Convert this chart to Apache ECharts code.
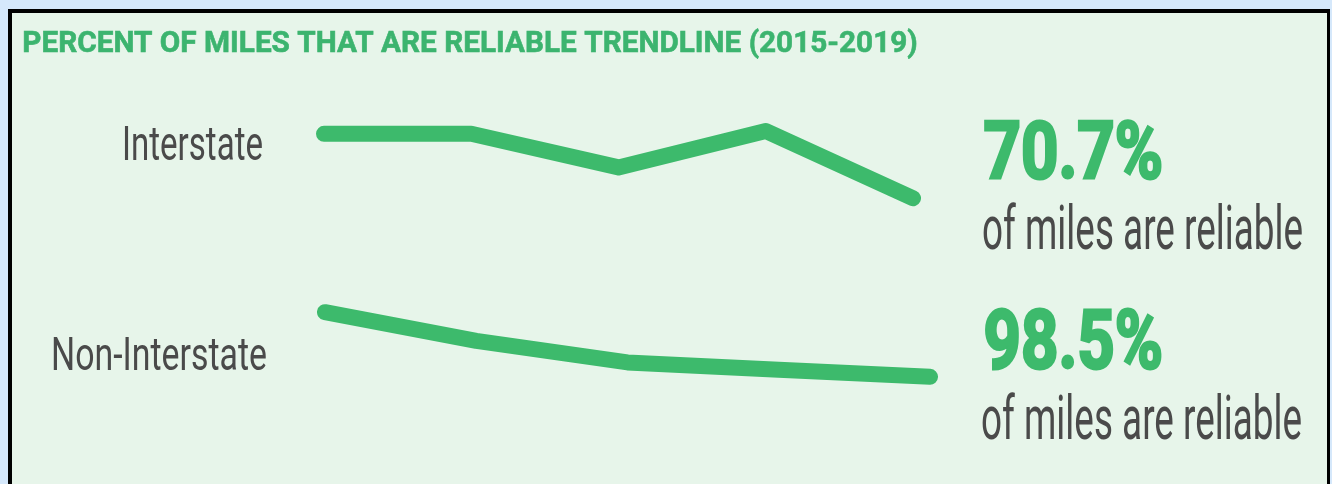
<!DOCTYPE html>
<html><head><meta charset="utf-8">
<script src="https://cdn.jsdelivr.net/npm/echarts@6/dist/echarts.min.js"></script>
<style>html,body{margin:0;padding:0;background:#d5e8fb}#c{width:1332px;height:484px}</style>
</head><body><div id="c"></div>
<script>
// ---- data ----
const years = ['2015', '2016', '2017', '2018', '2019'];
const interstate = [75.3, 75.3, 72.9, 75.5, 70.7];
const nonInterstate = [99.4, 99.0, 98.7, 98.6, 98.5];
const seriesNames = ['Interstate', 'Non-Interstate'];
const headlines = ['70.7%', '98.5%'];
const subline = 'of miles are reliable';
const titleText = 'PERCENT OF MILES THAT ARE RELIABLE TRENDLINE (2015-2019)';

// ---- styling ----
const GREEN = '#3dba6c';
const GREY = '#4a4a4a';
const ctx = document.createElement('canvas').getContext('2d');
function txt(text, family, weight, size, color, anchorX, align, width, baseline, strokeW) {
  const font = weight + ' ' + size + 'px ' + family;
  ctx.font = font;
  ctx.textBaseline = 'middle';
  const w = ctx.measureText(text).width + (strokeW || 0);
  const d = ctx.measureText('H').actualBoundingBoxDescent;
  const style = { text: text, font: font, fill: color, align: align, verticalAlign: 'middle' };
  if (strokeW) { style.stroke = color; style.lineWidth = strokeW; style.lineJoin = 'round'; }
  return {
    type: 'text', z: 100, x: anchorX + (align === 'left' ? (strokeW || 0) / 2 : 0), y: baseline - d,
    scaleX: width / w, originX: 0, originY: 0, style: style
  };
}

const chart = echarts.init(document.getElementById('c'), null, { renderer: 'canvas' });
const lineStyle = { width: 16, color: GREEN, cap: 'round', join: 'round' };
chart.setOption({
  backgroundColor: '#d5e8fb',
  animation: false,
  grid: [
    { left: 324, top: 124, width: 589, height: 84 },
    { left: 325, top: 305, width: 605, height: 79 }
  ],
  xAxis: [
    { type: 'category', data: years, gridIndex: 0, boundaryGap: false, show: false },
    { type: 'category', data: years, gridIndex: 1, boundaryGap: false, show: false }
  ],
  yAxis: [
    { type: 'value', min: 70, max: 76, gridIndex: 0, show: false },
    { type: 'value', min: 98.4, max: 99.5, gridIndex: 1, show: false }
  ],
  series: [
    { type: 'line', name: seriesNames[0], data: interstate, xAxisIndex: 0, yAxisIndex: 0,
      symbol: 'none', showSymbol: false, silent: true, lineStyle: lineStyle, z: 5 },
    { type: 'line', name: seriesNames[1], data: nonInterstate, xAxisIndex: 1, yAxisIndex: 1,
      symbol: 'none', showSymbol: false, silent: true, lineStyle: lineStyle, z: 5 }
  ],
  graphic: [
    { type: 'rect', z: 0, shape: { x: 8, y: 9, width: 1322, height: 480 }, style: { fill: '#000' }, silent: true },
    { type: 'rect', z: 1, shape: { x: 12, y: 13, width: 1315, height: 480 }, style: { fill: '#e7f5ea' }, silent: true },
    txt(titleText, 'Roboto', 'bold', 30, '#3cb46f', 22, 'left', 896, 52, 0.6),
    txt(seriesNames[0], 'Roboto', 'normal', 48, GREY, 263, 'right', 141, 160),
    txt(seriesNames[1], 'Roboto', 'normal', 46, GREY, 267, 'right', 216, 370),
    txt(headlines[0], 'Roboto', 'bold', 80, GREEN, 982, 'left', 182, 178, 3),
    txt(subline, 'Roboto', 'normal', 62, GREY, 982, 'left', 321, 249),
    txt(headlines[1], 'Roboto', 'bold', 82, GREEN, 982, 'left', 182, 368, 3),
    txt(subline, 'Roboto', 'normal', 62, GREY, 981, 'left', 321, 439)
  ]
});
</script>
</body></html>
